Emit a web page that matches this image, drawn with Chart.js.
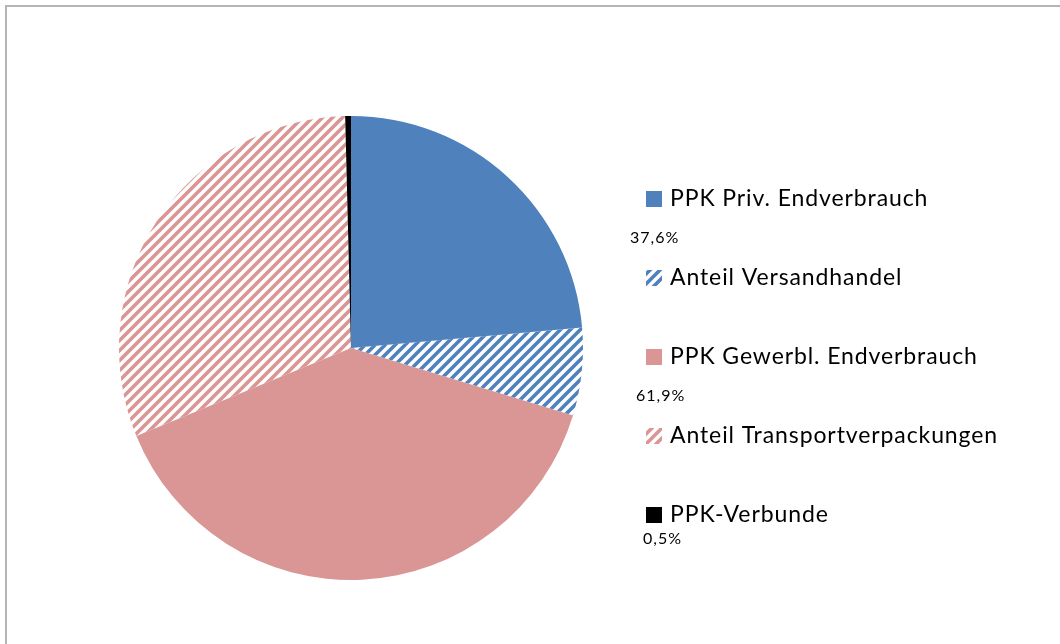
<!DOCTYPE html>
<html lang="de">
<head>
<meta charset="UTF-8">
<title>PPK Anteile</title>
<script src="https://cdn.jsdelivr.net/npm/chart.js"></script>
<style>
    body {
        margin: 0;
        background: #fff;
        overflow: hidden;
    }
    .frame {
        position: absolute;
        left: 5px;
        top: 5px;
        width: 1200px;
        height: 800px;
        border-left: 2px solid #b5b5b5;
        border-top: 2px solid #b5b5b5;
    }
    #pie {
        position: absolute;
        left: 0;
        top: 0;
    }
</style>
</head>
<body>
<div class="frame"></div>
<canvas id="pie" width="1060" height="644"></canvas>
<script>
// Daten (Anteile in %)
const labels = ['PPK Priv. Endverbrauch', 'Anteil Versandhandel', 'PPK Gewerbl. Endverbrauch', 'Anteil Transportverpackungen', 'PPK-Verbunde'];
const values = [23.6, 6.1, 39.1, 30.8, 0.4];
const pctLabels = ['37,6%', '', '61,9%', '', '0,5%'];

const blue = '#4f81bd';
const pink = '#d99694';

function stripes(color) {
    const s = 10;
    const c = document.createElement('canvas');
    c.width = s; c.height = s;
    const g = c.getContext('2d');
    g.strokeStyle = color;
    g.lineWidth = 3.6;
    g.beginPath();
    g.moveTo(0, s); g.lineTo(s, 0);
    g.moveTo(-3, 3); g.lineTo(3, -3);
    g.moveTo(s - 3, s + 3); g.lineTo(s + 3, s - 3);
    g.stroke();
    return g.createPattern(c, 'repeat');
}

const fills = [blue, stripes(blue), pink, stripes(pink), '#000000'];
const font = "Lato, 'Noto Sans', sans-serif";

const legendPlugin = {
    id: 'sideLegend',
    afterDraw(chart) {
        const ctx = chart.ctx;
        const x0 = 646, y0 = 199, step = 79;
        const pctPos = [[630, 39], null, [636, 39], null, [643, 24]];
        ctx.save();
        ctx.textBaseline = 'middle';
        labels.forEach((lab, i) => {
            const y = y0 + i * step;
            ctx.fillStyle = fills[i];
            ctx.fillRect(x0, y - 8, 16, 16);
            ctx.fillStyle = '#000';
            ctx.font = '23px ' + font;
            ctx.letterSpacing = '0.9px';
            ctx.fillText(lab, x0 + 24, y);
            if (pctLabels[i]) {
                ctx.font = '16px ' + font;
                ctx.letterSpacing = '1px';
                ctx.fillText(pctLabels[i], pctPos[i][0], y + pctPos[i][1]);
            }
        });
        ctx.restore();
    }
};

new Chart(document.getElementById('pie'), {
    type: 'pie',
    data: {
        labels: labels,
        datasets: [{
            data: values,
            backgroundColor: fills,
            borderWidth: 0
        }]
    },
    options: {
        responsive: false,
        animation: false,
        layout: {
            padding: { left: 119, right: 477, top: 116, bottom: 64 }
        },
        plugins: {
            legend: { display: false },
            tooltip: { enabled: false }
        }
    },
    plugins: [legendPlugin]
});
</script>
</body>
</html>
